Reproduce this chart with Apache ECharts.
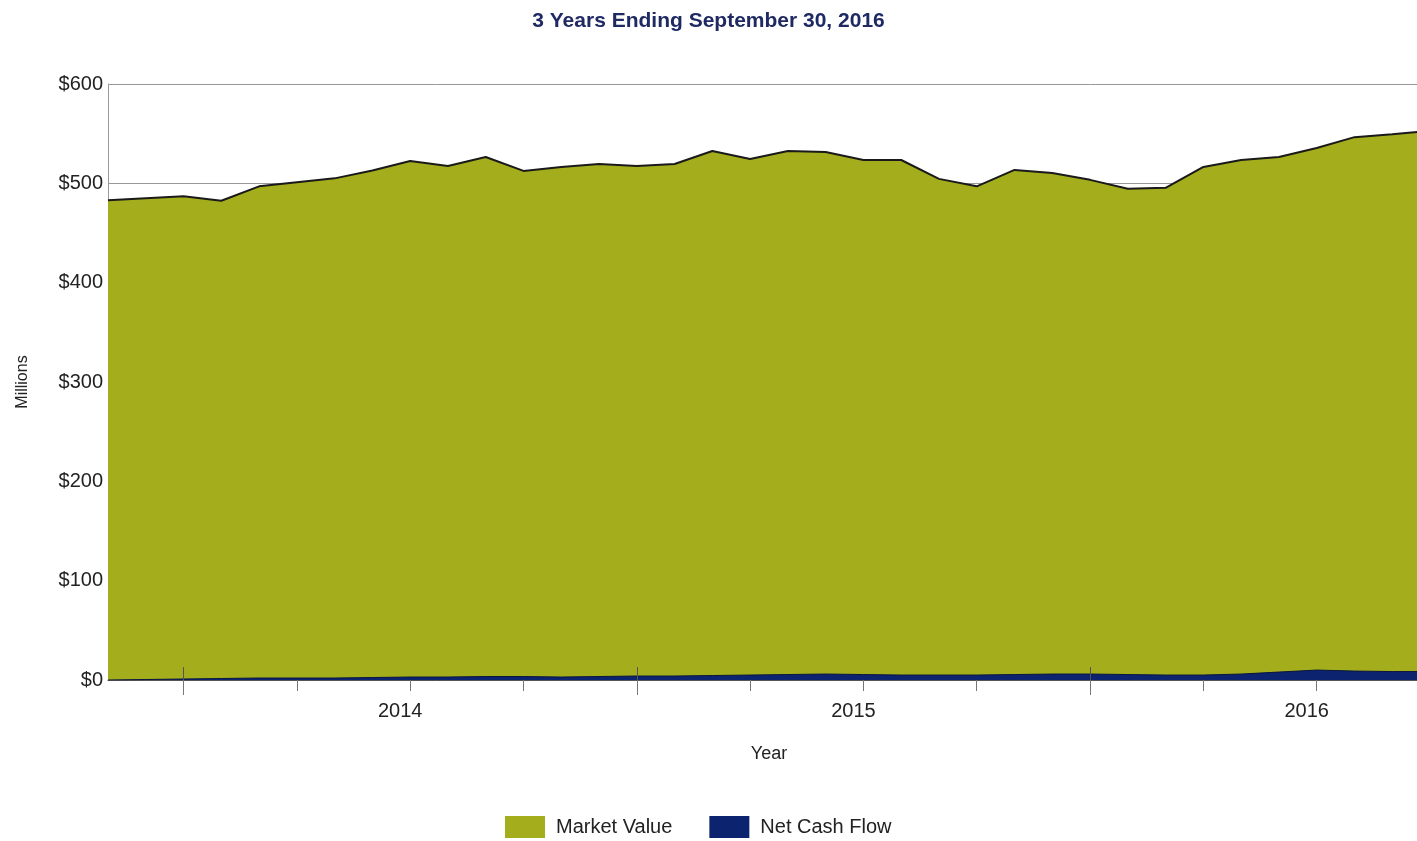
<!DOCTYPE html>
<html>
<head>
<meta charset="utf-8">
<title>3 Years Ending September 30, 2016</title>
<script src="https://cdn.jsdelivr.net/npm/echarts@6/dist/echarts.min.js"></script>
<style>
  html, body { margin: 0; padding: 0; background: #fff; }
  #main { width: 1417px; height: 841px; }
</style>
</head>
<body>
<div id="main"></div>
<script>
// 月份（类目）
var months = ['2013-05', '2013-06', '2013-07', '2013-08', '2013-09', '2013-10', '2013-11', '2013-12',
    '2014-01', '2014-02', '2014-03', '2014-04', '2014-05', '2014-06', '2014-07', '2014-08',
    '2014-09', '2014-10', '2014-11', '2014-12', '2015-01', '2015-02', '2015-03', '2015-04',
    '2015-05', '2015-06', '2015-07', '2015-08', '2015-09', '2015-10', '2015-11', '2015-12',
    '2016-01', '2016-02', '2016-03', '2016-04'];

// 市值（百万美元）
var marketValue = [483, 485, 487, 482.5, 497, 501, 505, 513, 522.5, 517.5, 526.5, 512.5,
    516.5, 519.5, 517.5, 519.5, 532.5, 524.5, 532.5, 531.5, 523.5, 523.5, 504.5, 497,
    513.5, 510.5, 503.5, 494.5, 495.5, 516.5, 523.5, 526.5, 535.5, 546.5, 549.5, 553];

// 净现金流（百万美元）
var netCashFlow = [0, 0.5, 1, 1.5, 2, 2, 2, 2.5, 3, 3, 3.5, 3.5,
    3, 3.5, 4, 4, 4.5, 5, 5.5, 6, 5.5, 5, 5, 5,
    5.5, 6, 6, 5.5, 5, 5, 6, 8, 10, 9, 8.5, 8.5];

// 年份刻度标签
var yearLabels = {'2014-01': '2014', '2015-01': '2015', '2016-01': '2016'};

(function() {
    var myChart = echarts.init(document.getElementById('main'));
    var font = 'Liberation Sans, Arial, sans-serif';

    // 年中长刻度（轴线上下各一段）
    function midYear(index) {
        return index % 12 === 2;
    }

    var option = {
        animation: false,
        title: {
            text: '3 Years Ending September 30, 2016',
            left: 'center',
            top: 6,
            textStyle: {
                color: '#1f2a63',
                fontSize: 21,
                fontWeight: 'bold',
                fontFamily: font
            }
        },
        grid: {
            left: 108,
            width: 1322,
            top: 84,
            bottom: 161,
            outerBoundsMode: 'none'
        },
        legend: {
            top: 811,
            left: 500,
            itemWidth: 40,
            itemHeight: 22,
            itemGap: 37,
            icon: 'rect',
            textStyle: {
                color: '#222',
                fontSize: 20,
                fontFamily: font,
                padding: [0, 0, 0, 6]
            },
            data: ['Market Value', 'Net Cash Flow']
        },
        xAxis: [{
            type: 'category',
            boundaryGap: false,
            data: months,
            name: 'Year',
            nameLocation: 'middle',
            nameGap: 65,
            nameTextStyle: {
                color: '#222',
                fontSize: 18,
                fontFamily: font
            },
            axisLine: {
                lineStyle: { color: '#555', width: 1 }
            },
            axisTick: {
                length: 11,
                interval: function(index) {
                    return index % 3 === 2 && !midYear(index);
                },
                lineStyle: { color: '#777' }
            },
            axisLabel: {
                interval: function(index, value) {
                    return !!yearLabels[value];
                },
                formatter: function(value) {
                    return yearLabels[value] || '';
                },
                margin: 21,
                padding: [0, 20, 0, 0],
                color: '#222',
                fontSize: 20,
                fontFamily: font
            },
            splitLine: { show: false }
        }, {
            type: 'category',
            boundaryGap: false,
            data: months,
            position: 'bottom',
            axisLine: { show: false },
            axisLabel: { show: false },
            axisTick: {
                length: 15,
                interval: midYear,
                lineStyle: { color: '#777' }
            },
            splitLine: { show: false }
        }, {
            type: 'category',
            boundaryGap: false,
            data: months,
            position: 'bottom',
            z: 10,
            axisLine: { show: false },
            axisLabel: { show: false },
            axisTick: {
                inside: true,
                length: 13,
                interval: midYear,
                lineStyle: { color: '#555' }
            },
            splitLine: { show: false }
        }],
        yAxis: {
            type: 'value',
            min: 0,
            max: 600,
            interval: 100,
            name: 'Millions',
            nameLocation: 'middle',
            nameGap: 77,
            nameRotate: 90,
            nameTextStyle: {
                color: '#222',
                fontSize: 16,
                fontFamily: font
            },
            axisLine: {
                show: true,
                lineStyle: { color: '#999' }
            },
            axisTick: { show: false },
            axisLabel: {
                margin: 5,
                color: '#222',
                fontSize: 20,
                fontFamily: font,
                formatter: function(v) {
                    return '$' + v;
                }
            },
            splitLine: {
                lineStyle: { color: '#999', width: 1 }
            }
        },
        series: [{
            name: 'Market Value',
            type: 'line',
            data: marketValue,
            symbol: 'none',
            color: '#a4ad1b',
            lineStyle: { color: '#1a1a1a', width: 2 },
            areaStyle: { color: '#a4ad1b', opacity: 1 },
            z: 2
        }, {
            name: 'Net Cash Flow',
            type: 'line',
            data: netCashFlow,
            symbol: 'none',
            color: '#0c2470',
            lineStyle: { color: '#0a1640', width: 1 },
            areaStyle: { color: '#0c2470', opacity: 1 },
            z: 3
        }]
    };

    myChart.setOption(option);
    window.addEventListener('resize', function() {
        myChart.resize();
    });
})();
</script>
</body>
</html>
